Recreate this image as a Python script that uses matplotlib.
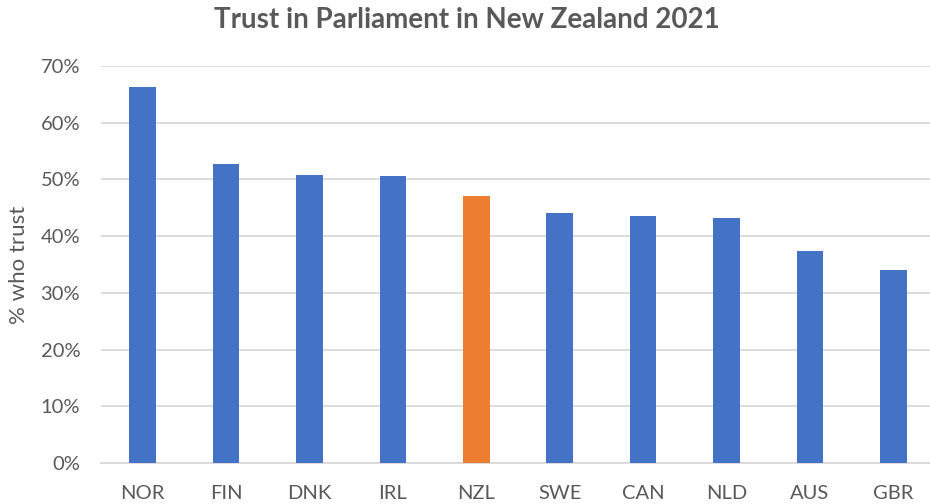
import matplotlib
matplotlib.use("Agg")
import matplotlib.pyplot as plt
from matplotlib.ticker import PercentFormatter, MultipleLocator

countries = ["NOR", "FIN", "DNK", "IRL", "NZL", "SWE", "CAN", "NLD", "AUS", "GBR"]
trust = [66.3, 52.8, 50.8, 50.6, 47.1, 44.0, 43.6, 43.2, 37.3, 34.1]
highlight = "NZL"

blue = "#4472C4"
orange = "#ED7D31"
text_col = "#595959"
grid_col = "#D9D9D9"

plt.rcParams["font.family"] = ["Lato", "DejaVu Sans"]

fig = plt.figure(figsize=(9.3, 5.04), dpi=100)
ax = fig.add_axes([101 / 930, 1 - 463 / 504, 1 - 101 / 930, (463 - 66) / 504])

colors = [orange if c == highlight else blue for c in countries]
x = range(len(countries))
ax.bar(x, [v / 100 for v in trust], width=0.32, color=colors, zorder=3)

ax.set_ylim(0, 0.7)
ax.set_xlim(-0.5, 9.44)
ax.yaxis.set_major_locator(MultipleLocator(0.1))
ax.yaxis.set_major_formatter(PercentFormatter(1.0, decimals=0))
ax.set_xticks(list(x))
ax.set_xticklabels(countries)

ax.grid(axis="y", color=grid_col, linewidth=1.3, zorder=0)
for s in ["top", "right", "left"]:
    ax.spines[s].set_visible(False)
ax.spines["bottom"].set_color(grid_col)
ax.spines["bottom"].set_linewidth(1.3)
ax.tick_params(axis="both", length=0, colors=text_col, labelsize=14.5)
ax.tick_params(axis="y", pad=15)
ax.tick_params(axis="x", pad=16)

ax.set_ylabel("% who trust", color=text_col, fontsize=16)
ax.yaxis.set_label_coords((29 - 101) / 829, 0.5)

fig.text(467 / 930, 1 - 20 / 504, "Trust in Parliament in New Zealand 2021",
         ha="center", va="center", fontsize=20, fontweight="bold", color=text_col)

fig.savefig("out.png", dpi=100, facecolor="white")
